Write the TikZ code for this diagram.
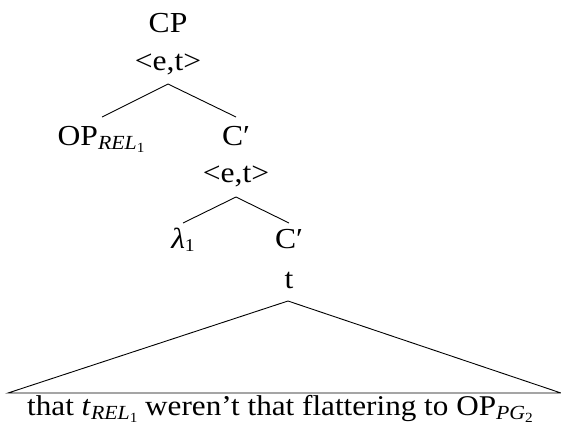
\documentclass[tikz,border=0pt]{standalone}
\usepackage{fontspec}
\setmainfont[FakeStretch=1.09]{Liberation Serif}
\newcommand\subA[2]{\raisebox{-4pt}{\fontsize{20}{20}\selectfont\textit{#1}\raisebox{-3pt}{\fontsize{14}{14}\selectfont #2}}}
\begin{document}
\begin{tikzpicture}[x=1pt,y=-1pt,
  lbl/.style={font=\fontsize{29}{33}\selectfont, inner sep=0pt, anchor=base},
  branch/.style={draw=black, line width=0.9pt}]
\useasboundingbox (0,0) rectangle (561,431);
% labels
\node[lbl] (cp)  at (168,32)  {CP};
\node[lbl] (et1) at (168,70)  {<e,t>};
\node[lbl] (op)  at (101,145) {OP\subA{REL}{1}};
\node[lbl] (c1)  at (236,145) {C′};
\node[lbl] (et2) at (236,182) {<e,t>};
\node[lbl] (lam) at (183,248) {\textit{λ}\raisebox{-3pt}{\fontsize{18}{18}\selectfont 1}};
\node[lbl] (c2)  at (289,248) {C′};
\node[lbl] (tt)  at (289,288) {t};
\node[lbl, font=\fontsize{28.6}{33}\selectfont] (bot) at (280,415) {that \textit{t}\subA{REL}{1} weren’t that flattering to OP\subA{PG}{2}};
% branch points
\coordinate (a1) at (168,84);
\coordinate (l1) at (102,117);
\coordinate (r1) at (236,117);
\coordinate (a2) at (236,197);
\coordinate (l2) at (183,223);
\coordinate (r2) at (289,223);
\coordinate (a3) at (288,301);
\coordinate (bl) at (8,393);
\coordinate (br) at (561,393);
\draw[branch] (l1) -- (a1) -- (r1);
\draw[branch] (l2) -- (a2) -- (r2);
\draw[branch] (a3) -- (bl) -- (br) -- cycle;
\end{tikzpicture}
\end{document}
